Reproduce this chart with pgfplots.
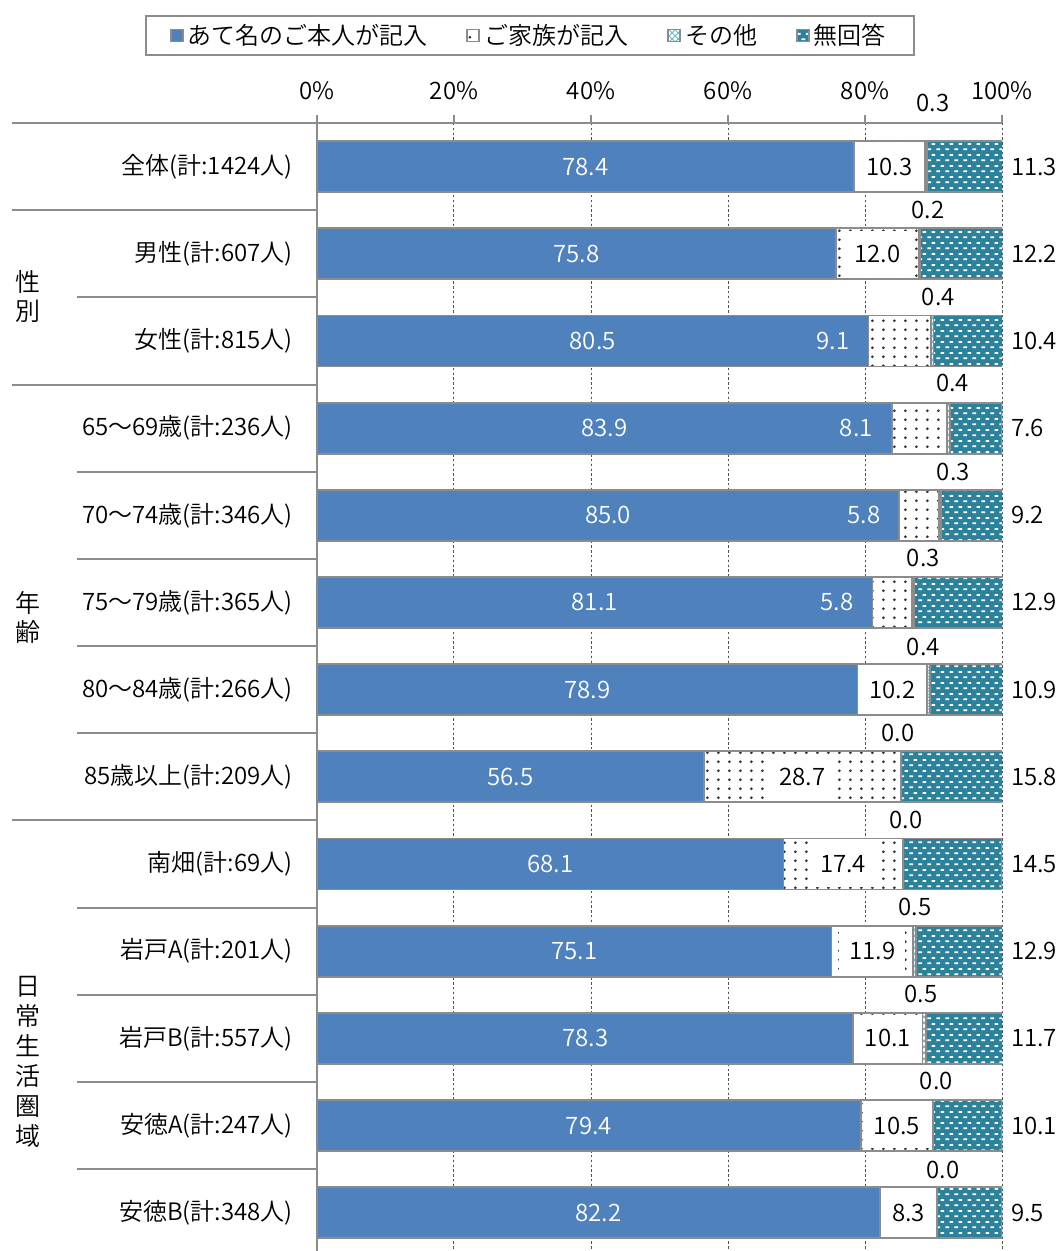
\documentclass[border=0pt]{standalone}
\usepackage{pgfplots}
\pgfplotsset{compat=1.18}
\usepackage{pgfplotstable}
\usetikzlibrary{patterns}
\usepackage{fontspec}
\setmainfont{Noto Sans CJK JP}[UprightFont=* DemiLight]

\definecolor{selfblue}{RGB}{79,129,189}
\definecolor{noans}{RGB}{45,130,155}
\definecolor{edgegray}{RGB}{140,140,140}
\definecolor{gridgray}{RGB}{80,80,80}
\definecolor{othercol}{RGB}{110,185,205}

% dotted fill for "family" answers
\pgfdeclarepatternformonly{famdots}{\pgfqpoint{0pt}{0pt}}{\pgfqpoint{5.4pt}{4.35pt}}{\pgfqpoint{5.4pt}{4.35pt}}{%
  \pgfpathcircle{\pgfqpoint{2.7pt}{2.2pt}}{0.75pt}\pgfusepath{fill}}
% short dashes laid over the teal fill for "no answer"
\pgfdeclarepatternformonly{nadash}{\pgfqpoint{0pt}{0pt}}{\pgfqpoint{4.5pt}{5.4pt}}{\pgfqpoint{4.5pt}{5.4pt}}{%
  \pgfpathrectangle{\pgfqpoint{0.25pt}{0.9pt}}{\pgfqpoint{2pt}{0.9pt}}%
  \pgfpathrectangle{\pgfqpoint{2.5pt}{3.6pt}}{\pgfqpoint{2pt}{0.9pt}}%
  \pgfusepath{fill}}

% a: self, b: family, c: other, d: no answer (percent)
% fb = 1 -> family label set inside the blue bar; lc/ly = position of the "other" label
\pgfplotstableread{
y  a     b     c    d     fb  lc    ly
0  78.4  10.3  0.3  11.3  0   89.9  -0.73
1  75.8  12.0  0.2  12.2  0   89.2  0.50
2  80.5  9.1   0.4  10.4  1   90.7  1.49
3  83.9  8.1   0.4  7.6   1   92.8  2.48
4  85.0  5.8   0.3  9.2   1   92.9  3.50
5  81.1  5.8   0.3  12.9  1   88.5  4.49
6  78.9  10.2  0.4  10.9  0   88.5  5.51
7  56.5  28.7  0.0  15.8  0   84.8  6.50
8  68.1  17.4  0.0  14.5  0   86.0  7.50
9  75.1  11.9  0.5  12.9  0   87.3  8.49
10 78.3  10.1  0.5  11.7  0   88.2  9.49
11 79.4  10.5  0.0  10.1  0   90.4  10.49
12 82.2  8.3   0.0  9.5   0   91.4  11.51
}\rows

\pgfplotsset{
  rowframe/.style={
    scale only axis, width=342.5pt, height=564pt,
    xmin=0, xmax=100, ymin=-0.5, ymax=12.44, y dir=reverse,
    at={(0,0)}, anchor=north west,
  },
  segment/.style={draw=edgegray, line width=0.9pt},
}

\begin{document}
\begin{tikzpicture}[font=\fontsize{12}{14}\selectfont]
\begin{axis}[rowframe,
  xbar stacked, bar width=0.585,
  axis x line*=top, axis y line*=left,
  axis line style={edgegray, line width=1pt},
  xtick={0,20,...,100},
  xticklabel={\pgfmathprintnumber{\tick}\%},
  /pgf/number format/assume math mode=true,
  tick align=outside, major tick length=4pt,
  xtick style={edgegray, line width=1pt},
  x tick label style={yshift=4pt},
  ytick={0,...,12}, ytick style={draw=none},
  y tick label style={inner sep=0pt, xshift=-8pt},
  yticklabels={全体(計:1424人), 男性(計:607人), 女性(計:815人),
    65〜69歳(計:236人), 70〜74歳(計:346人), 75〜79歳(計:365人),
    80〜84歳(計:266人), 85歳以上(計:209人), 南畑(計:69人),
    岩戸A(計:201人), 岩戸B(計:557人), 安徳A(計:247人), 安徳B(計:348人)},
  xmajorgrids,
  grid style={gridgray, line width=0.5pt, dash pattern=on 1.2pt off 1.2pt},
  clip mode=individual,
  legend columns=4,
  legend style={at={(axis description cs:0.311,1)}, anchor=center, yshift=43.75pt,
    draw=edgegray, line width=0.8pt, inner xsep=12pt, inner ysep=2pt,
    font=\fontsize{12}{14}\selectfont,
    /tikz/every even column/.append style={column sep=17.5pt}},
  legend image code/.code={\draw[#1] (0pt,-3pt) rectangle (6pt,3pt);},
]
\addplot[segment, fill=selfblue] table[x=a, y=y]{\rows};
\addlegendentry{あて名のご本人が記入}
\addplot[segment, preaction={fill=white}, pattern=famdots, pattern color=black!80] table[x=b, y=y]{\rows};
\addlegendentry{ご家族が記入}
\addplot[segment, preaction={fill=white}, pattern=crosshatch, pattern color=othercol] table[x=c, y=y]{\rows};
\addlegendentry{その他}
\addplot[segment, preaction={fill=noans}, pattern=nadash, pattern color=white] table[x=d, y=y]{\rows};
\addlegendentry{無回答}

% row separators in the label column
\pgfplotsinvokeforeach{-0.5,0.5,2.5,7.5}{
  \draw[edgegray, line width=1pt] (axis cs:-44.5,#1) -- (axis cs:0,#1);}
\pgfplotsinvokeforeach{1.5,3.5,4.5,5.5,6.5,8.5,9.5,10.5,11.5}{
  \draw[edgegray, line width=1pt] (axis cs:-35.0,#1) -- (axis cs:0,#1);}

% group headings
\node[align=center, font=\fontsize{12.5}{14.2}\selectfont] at (axis cs:-42.2,1.49) {性\\別};
\node[align=center, font=\fontsize{12.5}{14.2}\selectfont] at (axis cs:-42.2,5.17) {年\\齢};
\node[align=center, font=\fontsize{12.5}{15}\selectfont] at (axis cs:-42.2,10.27) {日\\常\\生\\活\\圏\\域};
\end{axis}

% value labels
\begin{axis}[rowframe, hide axis, clip=false,
  point meta=explicit,
  /pgf/number format/assume math mode=true,
  nodes near coords={\pgfmathprintnumber[fixed,fixed zerofill,precision=1]{\pgfplotspointmeta}},
]
\addplot[draw=none, mark=none,
  every node near coord/.append style={anchor=center, text=white}]
  table[x expr=\thisrow{a}/2, y=y, meta=a]{\rows};
\addplot[draw=none, mark=none,
  restrict expr to domain={\thisrow{fb}}{0:0},
  every node near coord/.append style={anchor=center, fill=white, inner xsep=5pt, minimum height=23pt}]
  table[x expr=\thisrow{a}+\thisrow{b}/2, y=y, meta=b]{\rows};
\addplot[draw=none, mark=none,
  restrict expr to domain={\thisrow{fb}}{1:1},
  every node near coord/.append style={anchor=east, text=white, xshift=-6pt}]
  table[x=a, y=y, meta=b]{\rows};
\addplot[draw=none, mark=none,
  every node near coord/.append style={anchor=center}]
  table[x=lc, y=ly, meta=c]{\rows};
\addplot[draw=none, mark=none,
  every node near coord/.append style={anchor=west, xshift=1pt}]
  table[x expr=100, y=y, meta=d]{\rows};
\end{axis}

\pgfresetboundingbox
\path[use as bounding box] (-158.5pt,61.5pt) rectangle (369.5pt,-564pt);
\end{tikzpicture}
\end{document}
